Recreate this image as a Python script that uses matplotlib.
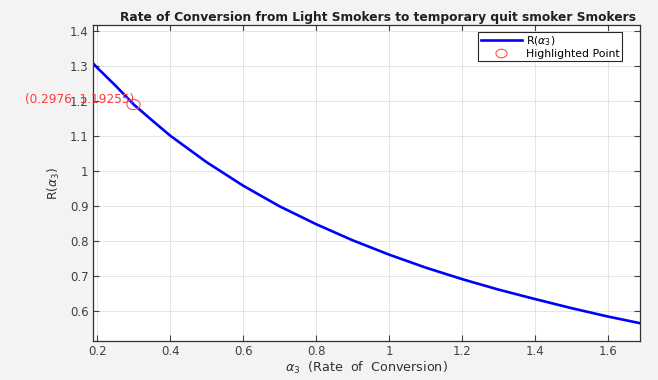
import numpy as np
import matplotlib.pyplot as plt
from matplotlib.lines import Line2D

plt.rcParams['font.family'] = ['DejaVu Sans']
plt.rcParams['mathtext.fontset'] = 'dejavusans'

# R(alpha3) sampled along the conversion rate axis
alpha3 = [0.1874, 0.2, 0.25, 0.3, 0.35, 0.4, 0.5, 0.6, 0.7, 0.8, 0.9, 1.0,
          1.1, 1.2, 1.3, 1.4, 1.5, 1.6, 1.688]
r_vals = [1.309, 1.295, 1.244, 1.190, 1.145, 1.101, 1.025, 0.958, 0.899,
          0.848, 0.802, 0.761, 0.724, 0.691, 0.661, 0.634, 0.608, 0.584, 0.565]

hl_x = 0.2976
hl_y = 1.19255

xticks = [0.2, 0.4, 0.6, 0.8, 1.0, 1.2, 1.4, 1.6]
xtick_labels = ['0.2', '0.4', '0.6', '0.8', '1', '1.2', '1.4', '1.6']
yticks = [0.6, 0.7, 0.8, 0.9, 1.0, 1.1, 1.2, 1.3, 1.4]
ytick_labels = ['0.6', '0.7', '0.8', '0.9', '1', '1.1', '1.2', '1.3', '1.4']

# slightly wide open circle used for the highlighted point
t = np.linspace(0, 2 * np.pi, 60)
ellipse = np.column_stack([1.3 * np.cos(t), np.sin(t)])

fig = plt.figure(figsize=(6.58, 3.8), dpi=100, facecolor='#f3f3f3')
ax = fig.add_axes([0.1409, 0.1026, 0.8317, 0.8303])
ax.set_facecolor('white')

ax.plot(alpha3, r_vals, color='#0000ff', linewidth=1.9)
ax.plot([hl_x], [hl_y], linestyle='none', marker=ellipse, markersize=9.5,
        markerfacecolor='none', markeredgecolor='#ff5050', markeredgewidth=0.8)
ax.text(hl_x + 0.003, hl_y + 0.012, f'({hl_x}, {hl_y})', color='#ff3a3a',
        fontsize=8.7, ha='right', va='center')

ax.set_xlim(0.1874, 1.688)
ax.set_ylim(0.514, 1.416)
ax.set_xticks(xticks)
ax.set_xticklabels(xtick_labels)
ax.set_yticks(yticks)
ax.set_yticklabels(ytick_labels)
ax.tick_params(direction='in', top=True, right=True, labelsize=8.5,
               colors='#404040', length=4, width=0.8, pad=3)
ax.grid(True, color='#e0e0e0', linewidth=0.6)
ax.set_axisbelow(True)
for s in ax.spines.values():
    s.set_color('#303030')
    s.set_linewidth(0.9)

ax.set_title('Rate of Conversion from Light Smokers to temporary quit smoker Smokers',
             fontsize=8.8, fontweight='bold', color='#202020', pad=3, x=0.521)
ax.set_xlabel(r'$\alpha_3$  (Rate  of  Conversion)', fontsize=9.2,
              color='#303030', labelpad=1)
ax.set_ylabel(r'R($\alpha_3$)', fontsize=8.8, color='#303030', labelpad=5.5)

handles = [
    Line2D([], [], color='#0000ff', linewidth=1.9),
    Line2D([], [], linestyle='none', marker=ellipse, markersize=8,
           markerfacecolor='none', markeredgecolor='#ff5050', markeredgewidth=0.8),
]
leg = ax.legend(handles, [r'R($\alpha_3$)', 'Highlighted Point'],
                loc='upper right', bbox_to_anchor=(0.967, 0.980), borderaxespad=0,
                fontsize=7.8, frameon=True, fancybox=False, framealpha=1,
                edgecolor='#262626', borderpad=0.2, labelspacing=0.1,
                handlelength=3.8, handletextpad=0.4)
leg.get_frame().set_linewidth(0.8)

fig.savefig('out.png', dpi=100, facecolor=fig.get_facecolor())
